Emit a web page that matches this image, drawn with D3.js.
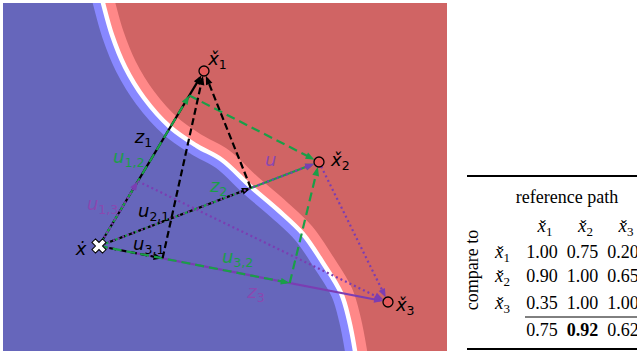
<!DOCTYPE html>
<html><head><meta charset="utf-8">
<script src="https://cdn.jsdelivr.net/npm/d3@7"></script>
<style>body{margin:0;background:#fff}svg{display:block}</style>
</head><body><svg id="c" width="637" height="352"></svg>
<script>
// ---------------- data (plot units) ----------------
const originX = 2.162, originY = 2.414;             // query point ẋ
const refIds = [1, 2, 3];
const refX = [4.527, 7.117, 8.671];                  // reference points x̌1..x̌3
const refY = [6.437, 4.345, 1.126];
// decision boundary (white line)
const boundaryX = [2.095, 2.252, 2.455, 2.748, 3.176, 3.761, 4.369, 4.932, 5.563, 6.194, 6.757, 7.207, 7.613, 7.793, 7.928, 8.018];
const boundaryY = [8.644, 8.000, 7.264, 6.529, 5.816, 5.149, 4.713, 4.391, 3.793, 3.241, 2.690, 2.023, 1.333, 0.713, 0.000, -0.667];
// projections u_{ref,cmp}: fraction along reference path (as drawn)
const projRef = [1, 1, 2, 2, 3, 3];
const projCmp = [2, 3, 1, 3, 1, 2];
const projT   = [0.86, 0.37, 0.69, 1.00, 0.22, 0.66];
// table
const tableRowIds = [1, 2, 3];
const tableColIds = [1, 2, 3];
const tableValues = [[1.00, 0.75, 0.20], [0.90, 1.00, 0.65], [0.35, 1.00, 1.00]];
const tableMeans  = [0.75, 0.92, 0.62];
const bestMean = 1;

// ---------------- annotation layout ----------------
const labels = [
  {b:"x\u030C", s:"1", x:4.62, y:6.58, c:0},
  {b:"x\u030C", s:"2", x:7.39, y:4.25, c:0},
  {b:"x\u030C", s:"3", x:8.85, y:0.92, c:0},
  {b:"\u1E8B",  s:"",  x:1.64, y:2.21, c:0},
  {b:"z", s:"1",   x:2.97, y:4.78, c:1},
  {b:"u", s:"1,2", x:2.48, y:4.32, c:2},
  {b:"u", s:"1,3", x:1.89, y:3.24, c:3},
  {b:"u", s:"2,1", x:3.04, y:3.08, c:1},
  {b:"u", s:"3,1", x:2.93, y:2.32, c:1},
  {b:"z", s:"2",   x:4.66, y:3.66, c:2},
  {b:"u", s:"",    x:5.90, y:4.25, c:3},
  {b:"u", s:"3,2", x:4.93, y:2.02, c:2},
  {b:"z", s:"3",   x:5.50, y:1.22, c:3}
];

const colorOf = {0:"#000000", 1:"#000000", 2:"#1a9e48", 3:"#7b3db2"};
const labelColor = {0:"#000000", 1:"#000000", 2:"#1a9e48", 3:"#8a48b0"};
const dashOf  = {1:"7,3.5", 2:"9,5", 3:"2,3"};

const svg = d3.select("#c");
const x = d3.scaleLinear().domain([0, 10]).range([3, 447]);
const y = d3.scaleLinear().domain([0, 8]).range([351, 3]);
const R = 5;

// ---------------- background regions ----------------
const defs = svg.append("defs");
const lineGen = d3.line().x(d => x(d[0])).y(d => y(d[1])).curve(d3.curveCatmullRom.alpha(0.5));
const bpts = boundaryX.map((v, i) => [v, boundaryY[i]]);
const bPath = lineGen(bpts);
const leftPoly = bPath + `L${x(-1)},${y(-1)}L${x(-1)},${y(9)}Z`;
const rightPoly = bPath + `L${x(11)},${y(-1)}L${x(11)},${y(9)}Z`;
defs.append("clipPath").attr("id", "plotClip").append("rect")
  .attr("x", x(0)).attr("y", y(8)).attr("width", x(10) - x(0)).attr("height", y(0) - y(8));
defs.append("clipPath").attr("id", "leftClip").append("path").attr("d", leftPoly);
defs.append("clipPath").attr("id", "rightClip").append("path").attr("d", rightPoly);

[1, 2, 3].forEach(i => {
  defs.append("marker").attr("id", "ah" + i).attr("viewBox", "-8 -5 12 10")
    .attr("markerWidth", 12).attr("markerHeight", 10).attr("refX", 0).attr("refY", 0)
    .attr("markerUnits", "userSpaceOnUse").attr("orient", "auto")
    .append("path").attr("d", "M3,0L-6,-3.4L-6,3.4Z").attr("fill", colorOf[i]);
});

const plot = svg.append("g").attr("clip-path", "url(#plotClip)");
plot.append("rect").attr("x", x(0)).attr("y", y(8)).attr("width", x(10) - x(0)).attr("height", y(0) - y(8)).attr("fill", "#d06464");
const gl = plot.append("g").attr("clip-path", "url(#leftClip)");
gl.append("rect").attr("x", x(0)).attr("y", y(8)).attr("width", x(10) - x(0)).attr("height", y(0) - y(8)).attr("fill", "#6666bb");
gl.append("path").attr("d", bPath).attr("fill", "none").attr("stroke", "#8888ff").attr("stroke-width", 20);
const gr = plot.append("g").attr("clip-path", "url(#rightClip)");
gr.append("path").attr("d", bPath).attr("fill", "none").attr("stroke", "#ff8888").attr("stroke-width", 24);
plot.append("path").attr("d", bPath).attr("fill", "none").attr("stroke", "#ffffff").attr("stroke-width", 4.5);

// ---------------- arrows ----------------
const marks = plot.append("g");
function arrow(ax, ay, bx, by, ci, dash, s0, s1) {
  const dx = bx - ax, dy = by - ay, L = Math.hypot(dx, dy), ux = dx / L, uy = dy / L;
  marks.append("line")
    .attr("x1", ax + ux * s0).attr("y1", ay + uy * s0)
    .attr("x2", bx - ux * (s1 + 3)).attr("y2", by - uy * (s1 + 3))
    .attr("stroke", colorOf[ci]).attr("stroke-width", 2.2)
    .attr("stroke-dasharray", dash || null)
    .attr("marker-end", `url(#ah${ci})`);
}
const ox = x(originX), oy = y(originY);
const px = i => x(refX[i - 1]), py = i => y(refY[i - 1]);

// reference paths z_i (solid)
refIds.forEach(i => arrow(ox, oy, px(i), py(i), i, null, 0, R));

// projections along paths
const projPts = projT.map((t, k) => {
  const r = projRef[k];
  return [ox + t * (px(r) - ox), oy + t * (py(r) - oy)];
});
projT.forEach((t, k) => {
  const c = projCmp[k];
  arrow(ox, oy, projPts[k][0], projPts[k][1], c, dashOf[c], 0, t >= 1 ? R : 0);
});
// residuals from projection point to compared point
projT.forEach((t, k) => {
  const c = projCmp[k];
  arrow(projPts[k][0], projPts[k][1], px(c), py(c), c, dashOf[c], t >= 1 ? R : 0, R);
});

// points
marks.selectAll("circle.ref").data(refIds).join("circle").attr("class", "ref")
  .attr("cx", i => px(i)).attr("cy", i => py(i)).attr("r", R)
  .attr("fill", "#e35a5a").attr("stroke", "#000").attr("stroke-width", 1.3);
marks.append("path").attr("d", d3.symbol(d3.symbolCross, 125)())
  .attr("transform", `translate(${ox},${oy}) rotate(45)`)
  .attr("fill", "#fff").attr("stroke", "#000").attr("stroke-width", 1);

// labels
const lg = svg.append("g").attr("font-family", "'DejaVu Sans', sans-serif");
labels.forEach(l => {
  const t = lg.append("text").attr("x", x(l.x)).attr("y", y(l.y)).attr("fill", labelColor[l.c]);
  t.append("tspan").attr("font-style", "italic").attr("font-size", 18).text(l.b);
  if (l.s) t.append("tspan").attr("font-size", 12.5).attr("dy", 4).text(l.s);
});

// ---------------- table ----------------
const tbl = svg.append("g").attr("font-family", "'Liberation Serif','Times New Roman',serif").attr("font-size", 18).attr("fill", "#000");
const colX = d3.scalePoint().domain(tableColIds).range([542, 623]);
tbl.append("line").attr("x1", 467).attr("x2", 640).attr("y1", 176).attr("y2", 176).attr("stroke", "#000").attr("stroke-width", 2);
tbl.append("text").attr("x", 567).attr("y", 203).attr("text-anchor", "middle").text("reference path");
function checkX(g, cx, cy, sub, anchor) {
  const t = g.append("text").attr("x", cx).attr("y", cy).attr("text-anchor", anchor);
  t.append("tspan").attr("font-style", "italic").attr("font-size", 19).text("x\u030C");
  t.append("tspan").attr("font-size", 13).attr("dy", 4).text(sub);
}
tableColIds.forEach(j => checkX(tbl, colX(j) + 3, 232, j, "middle"));
const rowY = [258, 282, 309];
tableRowIds.forEach((r, i) => {
  checkX(tbl, 495, rowY[i], r, "start");
  tableValues[i].forEach((v, j) => {
    tbl.append("text").attr("x", colX(tableColIds[j])).attr("y", rowY[i]).attr("text-anchor", "middle").text(v.toFixed(2));
  });
});
tbl.append("line").attr("x1", 525).attr("x2", 640).attr("y1", 317).attr("y2", 317).attr("stroke", "#000").attr("stroke-width", 1);
tableMeans.forEach((v, j) => {
  tbl.append("text").attr("x", colX(tableColIds[j])).attr("y", 336).attr("text-anchor", "middle")
    .attr("font-weight", j === bestMean ? "bold" : null).text(v.toFixed(2));
});
tbl.append("line").attr("x1", 467).attr("x2", 640).attr("y1", 349).attr("y2", 349).attr("stroke", "#000").attr("stroke-width", 2);
tbl.append("text").attr("transform", "translate(478,270) rotate(-90)").attr("text-anchor", "middle").text("compare to");
</script></body></html>
